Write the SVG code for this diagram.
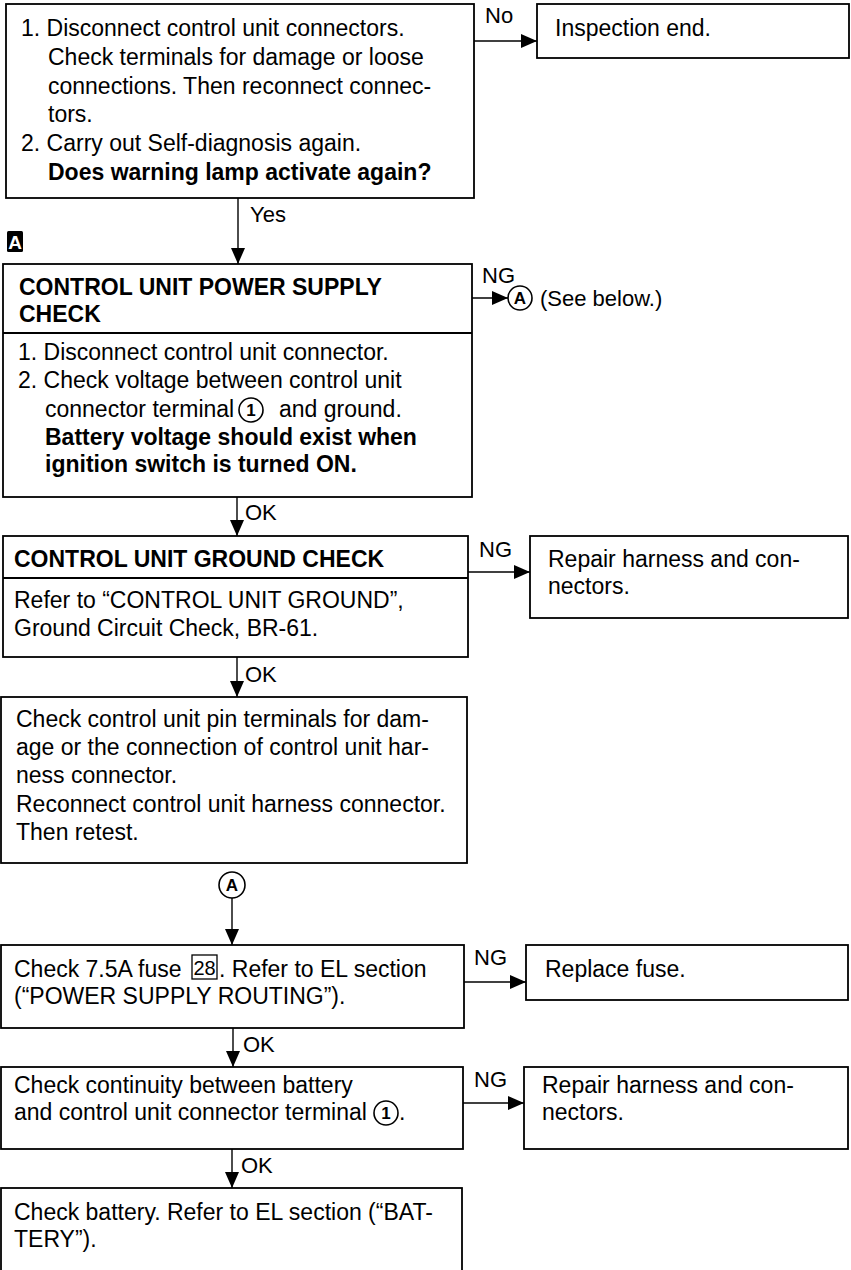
<svg xmlns="http://www.w3.org/2000/svg" width="851" height="1270" viewBox="0 0 851 1270">
<style>
text{font-family:"Liberation Sans",Arial,sans-serif;font-size:23px;fill:#000}
.b{font-weight:bold}
.lbl{font-size:22px}
.box{fill:#fff;stroke:#000;stroke-width:1.8}
.div{stroke:#000;stroke-width:1.8}
.con{stroke:#000;stroke-width:1.4;fill:none}
.circ{fill:#fff;stroke:#000;stroke-width:1.6}
.ct{font-size:17px;font-weight:bold;text-anchor:middle}
</style>
<defs>
<marker id="ah" markerUnits="userSpaceOnUse" markerWidth="17" markerHeight="14" refX="16" refY="7" orient="auto">
<path d="M0,0 L16,7 L0,14 z" fill="#000"/>
</marker>
</defs>
<rect width="851" height="1270" fill="#fff"/>

<g id="connectors">
<line class="con" x1="474" y1="41" x2="537" y2="41" marker-end="url(#ah)"/>
<text class="lbl" x="485" y="23">No</text>
<line class="con" x1="238" y1="198" x2="238" y2="264" marker-end="url(#ah)"/>
<text class="lbl" x="250" y="222">Yes</text>
<line class="con" x1="472" y1="298" x2="508" y2="298" marker-end="url(#ah)"/>
<text class="lbl" x="482" y="283">NG</text>
<line class="con" x1="237" y1="497" x2="237" y2="536" marker-end="url(#ah)"/>
<text class="lbl" x="245" y="520">OK</text>
<line class="con" x1="468" y1="572" x2="530" y2="572" marker-end="url(#ah)"/>
<text class="lbl" x="479" y="557">NG</text>
<line class="con" x1="237" y1="657" x2="237" y2="697" marker-end="url(#ah)"/>
<text class="lbl" x="245" y="682">OK</text>
<line class="con" x1="232" y1="898" x2="232" y2="945" marker-end="url(#ah)"/>
<line class="con" x1="464" y1="982" x2="526" y2="982" marker-end="url(#ah)"/>
<text class="lbl" x="474" y="965">NG</text>
<line class="con" x1="233" y1="1028" x2="233" y2="1067" marker-end="url(#ah)"/>
<text class="lbl" x="243" y="1052">OK</text>
<line class="con" x1="463" y1="1103" x2="524" y2="1103" marker-end="url(#ah)"/>
<text class="lbl" x="474" y="1087">NG</text>
<line class="con" x1="232" y1="1149" x2="232" y2="1188" marker-end="url(#ah)"/>
<text class="lbl" x="241" y="1173">OK</text>
</g>

<g id="n1">
<rect class="box" x="6" y="4" width="468" height="194"/>
<text x="21" y="36">1. Disconnect control unit connectors.</text>
<text x="48" y="65">Check terminals for damage or loose</text>
<text x="48" y="94">connections. Then reconnect connec-</text>
<text x="48" y="122">tors.</text>
<text x="21" y="151">2. Carry out Self-diagnosis again.</text>
<text class="b" x="48" y="180">Does warning lamp activate again?</text>
</g>

<g id="n-end">
<rect class="box" x="537" y="4" width="312" height="54"/>
<text x="555" y="36">Inspection end.</text>
</g>

<g id="markA">
<rect x="7" y="231" width="16" height="21" rx="1.5" fill="#000"/>
<text x="15" y="249" style="font-size:19px;font-weight:bold;fill:#fff;text-anchor:middle">A</text>
</g>

<g id="n2">
<rect class="box" x="3" y="264" width="469" height="233"/>
<line class="div" x1="3" y1="333" x2="472" y2="333"/>
<text class="b" x="19" y="295">CONTROL UNIT POWER SUPPLY</text>
<text class="b" x="19" y="322">CHECK</text>
<text x="18" y="360">1. Disconnect control unit connector.</text>
<text x="18" y="388">2. Check voltage between control unit</text>
<text x="45" y="417">connector terminal</text>
<circle class="circ" cx="251" cy="410" r="12"/>
<text class="ct" x="251" y="416">1</text>
<text x="279" y="417">and ground.</text>
<text class="b" x="45" y="445">Battery voltage should exist when</text>
<text class="b" x="45" y="472">ignition switch is turned ON.</text>
</g>

<g id="refA1">
<circle class="circ" cx="520" cy="298" r="12"/>
<text class="ct" x="520" y="304">A</text>
<text x="540" y="306" style="font-size:22px">(See below.)</text>
</g>

<g id="n3">
<rect class="box" x="3" y="536" width="465" height="121"/>
<line class="div" x1="3" y1="578" x2="468" y2="578"/>
<text class="b" x="14" y="567">CONTROL UNIT GROUND CHECK</text>
<text x="14" y="608">Refer to “CONTROL UNIT GROUND”,</text>
<text x="14" y="636">Ground Circuit Check, BR-61.</text>
</g>

<g id="n-repair1">
<rect class="box" x="530" y="536" width="318" height="82"/>
<text x="548" y="567">Repair harness and con-</text>
<text x="548" y="594">nectors.</text>
</g>

<g id="n4">
<rect class="box" x="1" y="697" width="466" height="166"/>
<text x="16" y="727">Check control unit pin terminals for dam-</text>
<text x="16" y="755">age or the connection of control unit har-</text>
<text x="16" y="783">ness connector.</text>
<text x="16" y="812">Reconnect control unit harness connector.</text>
<text x="16" y="840">Then retest.</text>
</g>

<g id="refA2">
<circle class="circ" cx="232" cy="885" r="13"/>
<text class="ct" x="232" y="891">A</text>
</g>

<g id="n5">
<rect class="box" x="1" y="945" width="463" height="83"/>
<text x="14" y="977">Check 7.5A fuse</text>
<rect x="192" y="955" width="25" height="24" fill="none" stroke="#000" stroke-width="1.3"/>
<text x="204.5" y="975" style="font-size:20px;text-anchor:middle">28</text>
<text x="219" y="977">. Refer to EL section</text>
<text x="14" y="1004">(“POWER SUPPLY ROUTING”).</text>
</g>

<g id="n-replace">
<rect class="box" x="526" y="945" width="322" height="55"/>
<text x="545" y="977">Replace fuse.</text>
</g>

<g id="n6">
<rect class="box" x="1" y="1067" width="462" height="82"/>
<text x="14" y="1093">Check continuity between battery</text>
<text x="14" y="1120">and control unit connector terminal</text>
<circle class="circ" cx="386" cy="1113" r="12"/>
<text class="ct" x="386" y="1119">1</text>
<text x="399" y="1120">.</text>
</g>

<g id="n-repair2">
<rect class="box" x="524" y="1067" width="324" height="82"/>
<text x="542" y="1093">Repair harness and con-</text>
<text x="542" y="1120">nectors.</text>
</g>

<g id="n7">
<rect class="box" x="1" y="1188" width="461" height="90"/>
<text x="14" y="1220">Check battery. Refer to EL section (“BAT-</text>
<text x="14" y="1247">TERY”).</text>
</g>
</svg>
